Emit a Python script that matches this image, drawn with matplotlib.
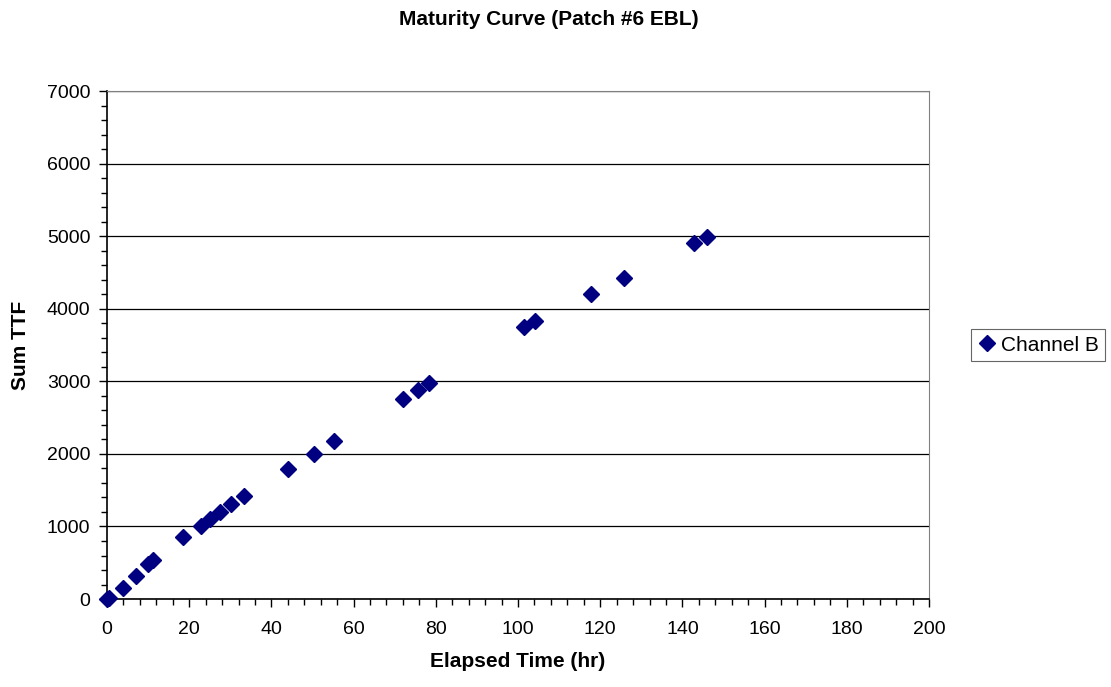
import numpy as np
import matplotlib.pyplot as plt
from matplotlib.ticker import MultipleLocator

plt.rcParams['font.family'] = ['Liberation Sans', 'DejaVu Sans']

elapsed = [0, 0.5, 4.0, 7.0, 9.9, 11.1, 18.6, 22.9, 25.1, 27.6, 30.2, 33.4,
           44.0, 50.3, 55.2, 72.0, 75.7, 78.3, 101.5, 104.1, 117.8, 125.8,
           142.9, 145.9]
sum_ttf = [0, 10, 150, 317, 482, 533, 850, 1005, 1102, 1194, 1304, 1414,
           1786, 1997, 2176, 2759, 2879, 2971, 3742, 3825, 4205, 4426,
           4908, 4990]

fig = plt.figure(figsize=(11.11, 6.87), dpi=100)
ax = fig.add_axes([0.0963, 0.128, 0.7399, 0.7395])

ax.plot(elapsed, sum_ttf, linestyle='none', marker='D', markersize=8,
        color='#000080', label='Channel B', clip_on=False, zorder=3)

ax.set_xlim(0, 200)
ax.set_ylim(0, 7000)
ax.xaxis.set_major_locator(MultipleLocator(20))
ax.xaxis.set_minor_locator(MultipleLocator(4))
ax.yaxis.set_major_locator(MultipleLocator(1000))
ax.yaxis.set_minor_locator(MultipleLocator(200))
ax.tick_params(which='both', direction='out', labelsize=14, width=1)
ax.tick_params(which='major', length=6)
ax.tick_params(which='minor', length=4)
ax.tick_params(axis='x', which='major', pad=10)
ax.tick_params(axis='y', which='major', pad=6)
ax.grid(axis='y', which='major', color='black', linewidth=0.9)

for side in ['top', 'right']:
    ax.spines[side].set_color('#808080')
ax.spines['left'].set_linewidth(1.2)
ax.spines['bottom'].set_linewidth(1.2)

ax.set_xlabel('Elapsed Time (hr)', fontsize=15, fontweight='bold', labelpad=10)
ax.set_ylabel('Sum TTF', fontsize=15, fontweight='bold', labelpad=12)
fig.text(0.494, 0.971, 'Maturity Curve (Patch #6 EBL)', fontsize=15,
         fontweight='bold', ha='center', va='center')

leg = ax.legend(loc='center left', bbox_to_anchor=(1.051, 0.5), fontsize=15,
                frameon=True, fancybox=False, edgecolor='#404040',
                handletextpad=0.25, borderpad=0.3, handlelength=0.9,
                borderaxespad=0)
leg.get_frame().set_linewidth(0.8)

fig.savefig('out.png', dpi=100)
